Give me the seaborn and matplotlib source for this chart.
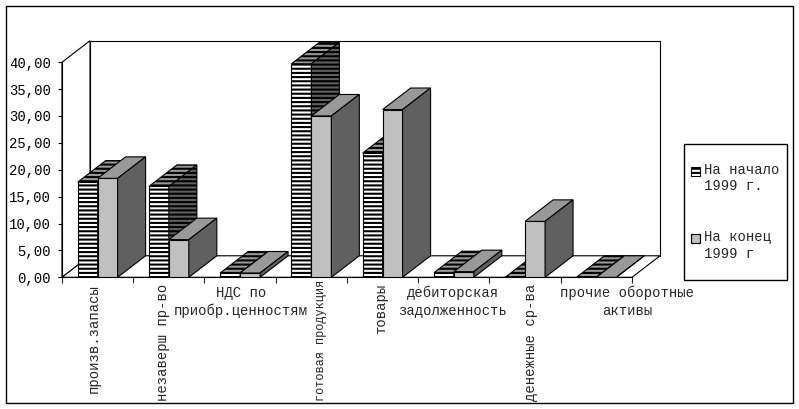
import numpy as np
import pandas as pd
import seaborn as sns
import matplotlib.pyplot as plt
from matplotlib.patches import Polygon, Rectangle
from matplotlib.ticker import FuncFormatter
from matplotlib.transforms import blended_transform_factory

categories = ["произв.запасы", "незаверш пр-во", "НДС по\nприобр.ценностям",
              "готовая продукция", "товары", "дебиторская\nзадолженность",
              "денежные ср-ва", "прочие оборотные\nактивы"]
series_names = ["На начало\n1999 г.", "На конец\n1999 г"]
start_1999 = [17.7, 16.9, 0.8, 39.7, 23.1, 0.85, 0.0, 0.0]
end_1999 = [18.4, 7.0, 0.8, 30.0, 31.2, 1.05, 10.4, 0.0]
y_ticks = [0, 5, 10, 15, 20, 25, 30, 35, 40]

sns.set_style("white")
plt.rcParams['font.family'] = ['Liberation Mono', 'DejaVu Sans']
plt.rcParams['hatch.linewidth'] = 1.5

W, H = 799, 409
fig = plt.figure(figsize=(W / 100, H / 100), dpi=100)

# pseudo 3d depth, in data units
DX = 0.393
DY = 4.0
n = len(categories)
left_px, right_px, bot_px, top_px = 62, 660, 277.3, 40.7
ax = fig.add_axes([left_px / W, 1 - bot_px / H, (right_px - left_px) / W, (bot_px - top_px) / H])

df = pd.DataFrame({
    "cat": categories * 2,
    "period": [series_names[0]] * n + [series_names[1]] * n,
    "val": start_1999 + end_1999,
})
sns.barplot(data=df, x="cat", y="val", hue="period", palette=["white", "#C0C0C0"],
            saturation=1, width=0.56, edgecolor="black", linewidth=0.8,
            legend=False, ax=ax)
bars = list(ax.patches)

ax.set_xlim(-0.5, n - 0.5 + DX)
ax.set_ylim(0, 40 + DY)

# walls and floor
x0, x1 = -0.5, n - 0.5
wall_kw = dict(facecolor="white", edgecolor="black", linewidth=0.8, clip_on=False, zorder=0.5)
ax.add_patch(Polygon([(x0 + DX, DY), (x1 + DX, DY), (x1 + DX, 40 + DY), (x0 + DX, 40 + DY)], **wall_kw))
ax.add_patch(Polygon([(x0, 0), (x0, 40), (x0 + DX, 40 + DY), (x0 + DX, DY)], **wall_kw))
ax.add_patch(Polygon([(x0, 0), (x1, 0), (x1 + DX, DY), (x0 + DX, DY)], **wall_kw))

# bar faces, painted left to right
face_top = ["#999999", "#999999"]
face_side = ["#606060", "#606060"]
for k, b in enumerate(sorted(bars, key=lambda p: p.get_x())):
    s = 0 if b in bars[:n] else 1
    x, w, h = b.get_x(), b.get_width(), b.get_height()
    z = 2 + 3 * k
    hatch = "----" if s == 0 else None
    if hatch:
        b.set_hatch(hatch)
    b.set_zorder(z)
    ax.add_patch(Polygon([(x, h), (x + w, h), (x + w + DX, h + DY), (x + DX, h + DY)],
                         facecolor=face_top[s], edgecolor="black", linewidth=0.8,
                         hatch=hatch, zorder=z + 1, clip_on=False))
    ax.add_patch(Polygon([(x + w, 0), (x + w, h), (x + w + DX, h + DY), (x + w + DX, DY)],
                         facecolor=face_side[s], edgecolor="black", linewidth=0.8,
                         hatch=hatch, zorder=z + 2, clip_on=False))

for sp in ["top", "right"]:
    ax.spines[sp].set_visible(False)
ax.spines["left"].set_bounds(0, 40)
ax.spines["bottom"].set_bounds(x0, x1)
for sp in ["left", "bottom"]:
    ax.spines[sp].set_linewidth(0.8)
    ax.spines[sp].set_color("black")
    ax.spines[sp].set_zorder(1)

ax.set_yticks(y_ticks)
ax.yaxis.set_major_formatter(FuncFormatter(lambda v, p: f"{v:.2f}".replace(".", ",")))
ax.set_xticks(np.arange(x0, x1 + 0.01, 1.0))
ax.set_xticklabels([])
ax.tick_params(axis="y", left=True, length=3, width=0.8, pad=5, labelsize=10, colors="black")
ax.tick_params(axis="x", bottom=True, length=4, width=0.8, direction="out")
ax.set_xlabel("")
ax.set_ylabel("")
ax.grid(False)

# category labels (Excel puts short ones flat, long ones upright)
label_dx = [-4, -6, 1, 10, -1, -1, 6, 31]
tr = blended_transform_factory(ax.transData, fig.transFigure)
for i, lab in enumerate(categories):
    xc = i + label_dx[i] / 71.25
    if "\n" in lab:
        ax.text(xc, 1 - 286 / H, lab, transform=tr, ha="center", va="top",
                fontsize=10, linespacing=1.35, multialignment="center")
    else:
        # the longest upright label is squeezed a bit so it stays inside the frame
        fs = 10 if len(lab) <= 14 else 8.6
        top = 284 if len(lab) <= 14 else 280
        ax.text(xc, 1 - top / H, lab, transform=tr, ha="center", va="top",
                rotation=90, fontsize=fs, clip_on=False)

# legend box
def fbox(px, py, pw, ph, **kw):
    return Rectangle((px / W, 1 - (py + ph) / H), pw / W, ph / H, transform=fig.transFigure, **kw)

fig.patches.append(fbox(684, 144, 103, 136, fill=False, edgecolor="black", linewidth=1))
leg_y = [166.5, 234]
leg_face = ["white", "#C0C0C0"]
for s in range(2):
    fig.patches.append(fbox(691, leg_y[s], 9, 9, facecolor=leg_face[s], edgecolor="black",
                            linewidth=0.8, hatch="----" if s == 0 else None))
    fig.text(704 / W, 1 - (leg_y[s] - 3.5) / H, series_names[s], ha="left", va="top",
             fontsize=10, linespacing=1.2)

# outer chart frame
fig.patches.append(fbox(6, 6, 787, 397, fill=False, edgecolor="black", linewidth=1))

fig.savefig("out.png", dpi=100)
